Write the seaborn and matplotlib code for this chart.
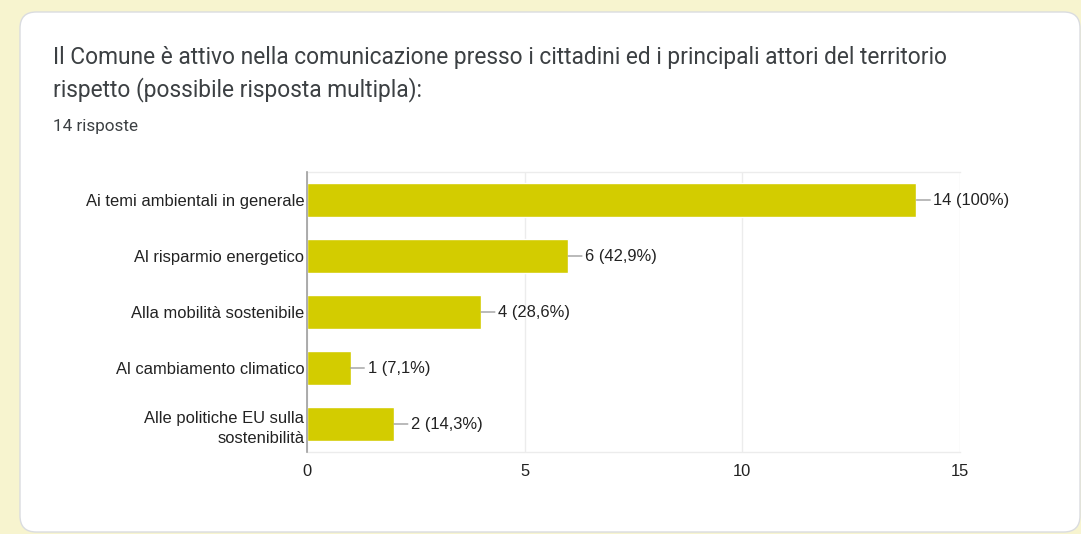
import matplotlib
matplotlib.use("Agg")
import matplotlib.pyplot as plt
from matplotlib.patches import FancyBboxPatch
import seaborn as sns
import pandas as pd

categories = [
    "Ai temi ambientali in generale",
    "Al risparmio energetico",
    "Alla mobilità sostenibile",
    "Al cambiamento climatico",
    "Alle politiche EU sulla\nsostenibilità",
]
counts = [14, 6, 4, 1, 2]
labels = ["14 (100%)", "6 (42,9%)", "4 (28,6%)", "1 (7,1%)", "2 (14,3%)"]
x_ticks = [0, 5, 10, 15]
title = ("Il Comune è attivo nella comunicazione presso i cittadini ed i principali attori del territorio\n"
         "rispetto (possibile risposta multipla):")
subtitle = "14 risposte"

sns.set_theme(style="white")
plt.rcParams["font.family"] = ["Liberation Sans", "DejaVu Sans"]

W, H = 1081, 534
fig = plt.figure(figsize=(W / 100, H / 100), dpi=100)
fig.patch.set_facecolor("#f7f4cf")

card = FancyBboxPatch((20 / W, 2 / H), (W - 21) / W, (H - 14) / H,
                      boxstyle="round,pad=0,rounding_size=0.015",
                      transform=fig.transFigure, facecolor="white",
                      edgecolor="#dadce0", linewidth=1.0, zorder=-5,
                      mutation_aspect=W / H)
fig.patches.append(card)

fig.text(53 / W, 1 - 74 / H, title, fontsize=16.4, family=["Roboto", "DejaVu Sans"],
         color="#3c4043", va="center", ha="left", linespacing=1.45)
fig.text(53 / W, 1 - 127 / H, subtitle, fontsize=12.3, family=["Roboto", "DejaVu Sans"],
         color="#3c4043", va="center", ha="left")

ax = fig.add_axes([307 / W, 1 - 452 / H, (960 - 307) / W, (452 - 172) / H])
ax.set_facecolor("white")
df = pd.DataFrame({"cat": categories, "n": counts})
sns.barplot(data=df, x="n", y="cat", orient="h", color="#d3cc00", width=0.62,
            saturation=1, ax=ax, zorder=3)
ax.set_xlim(0, 15)
ax.set_ylim(len(categories) - 0.5, -0.5)
ax.set_xticks(x_ticks)
ax.set_xticklabels([str(t) for t in x_ticks])
ax.set_xlabel("")
ax.set_ylabel("")
ax.grid(axis="x", color="#ececec", linewidth=1.0, zorder=0)
for s in ["top", "right", "bottom"]:
    ax.spines[s].set_color("#ececec")
    ax.spines[s].set_linewidth(1.0)
ax.spines["right"].set_visible(False)
ax.spines["left"].set_color("#9e9e9e")
ax.spines["left"].set_linewidth(1.2)
ax.spines["left"].set_zorder(5)
ax.tick_params(axis="both", length=0, labelsize=11.9, labelcolor="#222222")
ax.tick_params(axis="x", pad=9)
ax.tick_params(axis="y", pad=2)
ax.set_yticks(range(len(categories)))
ax.set_yticklabels(categories, linespacing=1.45)

for i, (v, lab) in enumerate(zip(counts, labels)):
    ax.annotate(lab, xy=(v, i), xytext=(17, 0), textcoords="offset pixels",
                va="center", ha="left", fontsize=11.9, color="#222222",
                arrowprops=dict(arrowstyle="-", color="#9e9e9e", lw=1.0,
                                shrinkA=0, shrinkB=0, relpos=(0, 0.5)),
                zorder=4)

fig.savefig("out.png", dpi=100, facecolor=fig.get_facecolor())
